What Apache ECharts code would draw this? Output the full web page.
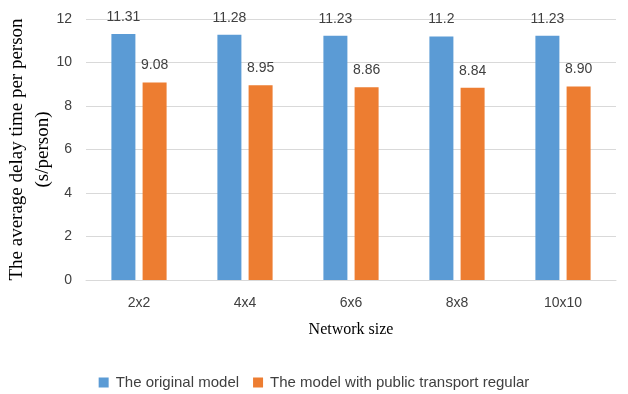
<!DOCTYPE html>
<html>
<head>
<meta charset="utf-8">
<script src="https://cdn.jsdelivr.net/npm/echarts@6/dist/echarts.min.js"></script>
<style>
  html, body { margin: 0; padding: 0; background: #fff; }
  #chart { width: 628px; height: 394px; }
</style>
</head>
<body>
<div id="chart"></div>
<script>
// Network sizes along the x axis
const categories = ['2x2', '4x4', '6x6', '8x8', '10x10'];
// Average delay per person (s/person), as printed above each bar
const originalLabels = ['11.31', '11.28', '11.23', '11.2', '11.23'];
const transitLabels = ['9.08', '8.95', '8.86', '8.84', '8.90'];
const originalValues = originalLabels.map(Number);
const transitValues = transitLabels.map(Number);
const seriesNames = ['The original model', 'The model with public transport regular'];

const sans = '"Liberation Sans", Arial, sans-serif';
const serif = '"Liberation Serif", "Times New Roman", serif';
const textColor = '#404040';

function barLabel(texts) {
  return {
    show: true,
    position: 'top',
    distance: 10,
    fontFamily: sans,
    fontSize: 14,
    color: textColor,
    formatter: p => texts[p.dataIndex]
  };
}

const chart = echarts.init(document.getElementById('chart'));
chart.setOption({
  animation: false,
  grid: { left: 86, right: 12, top: 19, bottom: 114, containLabel: false, outerBoundsMode: 'none' },
  legend: {
    top: 370,
    left: 'center',
    itemWidth: 10,
    itemHeight: 10,
    itemGap: 14,
    icon: 'rect',
    textStyle: { fontFamily: sans, fontSize: 15, color: textColor, padding: [0, 0, 0, 2] }
  },
  xAxis: {
    type: 'category',
    data: categories,
    name: 'Network size',
    nameLocation: 'middle',
    nameGap: 42,
    nameMoveOverlap: false,
    nameTextStyle: { fontFamily: serif, fontSize: 16, color: '#000' },
    axisLine: { lineStyle: { color: '#d9d9d9', width: 1 } },
    axisTick: { show: false },
    axisLabel: { fontFamily: sans, fontSize: 14, color: textColor, margin: 16 }
  },
  yAxis: {
    type: 'value',
    min: 0,
    max: 12,
    interval: 2,
    name: 'The average delay time per person\n(s/person)',
    nameLocation: 'middle',
    nameGap: 30,
    nameMoveOverlap: false,
    nameTextStyle: { fontFamily: serif, fontSize: 19, color: '#000', lineHeight: 26 },
    axisLine: { show: false },
    axisTick: { show: false },
    axisLabel: { fontFamily: sans, fontSize: 14, color: textColor, margin: 14 },
    splitLine: { lineStyle: { color: '#d9d9d9', width: 1 } }
  },
  series: [
    {
      name: seriesNames[0],
      type: 'bar',
      data: originalValues,
      barWidth: 24,
      barGap: '30%',
      itemStyle: { color: '#5b9bd5' },
      label: barLabel(originalLabels)
    },
    {
      name: seriesNames[1],
      type: 'bar',
      data: transitValues,
      barWidth: 24,
      barGap: '30%',
      itemStyle: { color: '#ed7d31' },
      label: barLabel(transitLabels)
    }
  ]
});
</script>
</body>
</html>
